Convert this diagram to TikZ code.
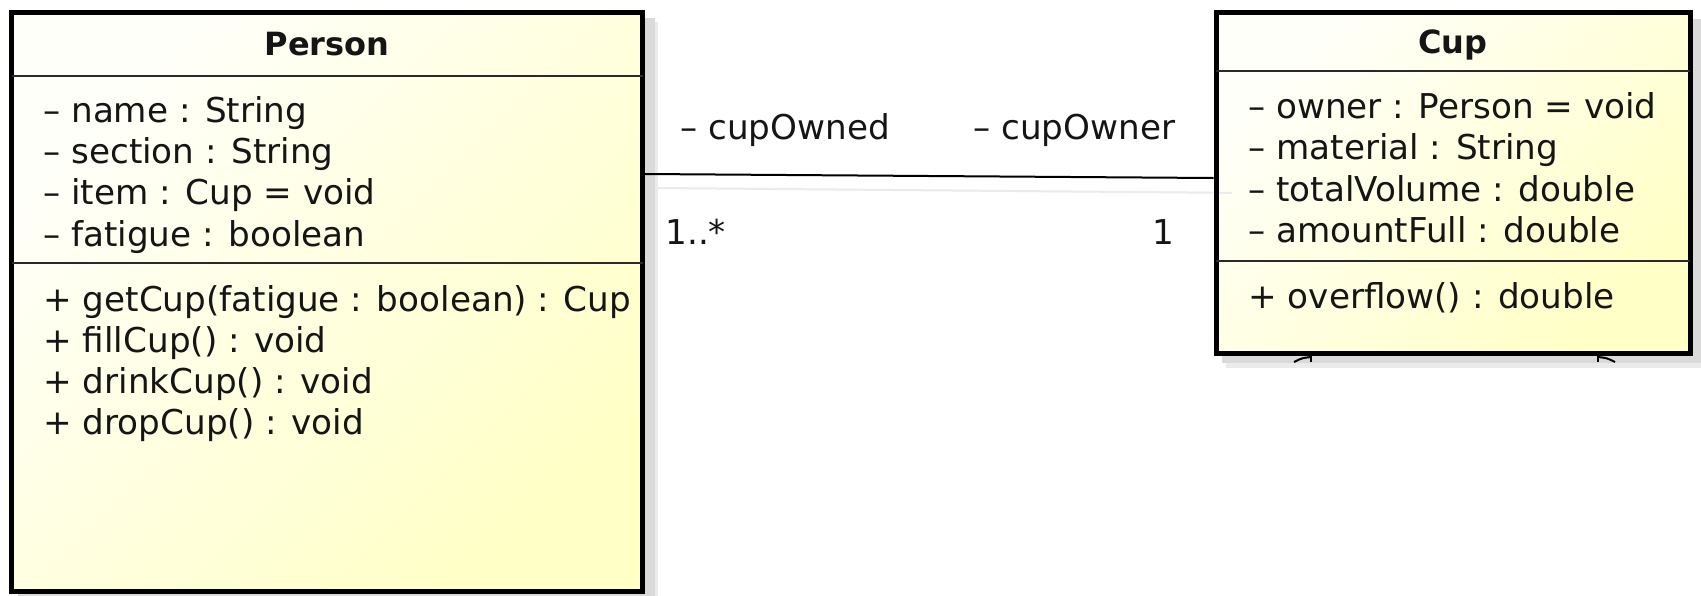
\documentclass[tikz,border=0pt]{standalone}
\usepackage{fontspec}
\setmainfont{DejaVu Sans}
\definecolor{boxlight}{HTML}{FFFFFA}
\definecolor{boxyellow}{HTML}{FFFFC6}
\definecolor{sepgray}{HTML}{2A2A2A}
\definecolor{shadowdark}{HTML}{DADADA}
\definecolor{shadowlight}{HTML}{EBEBEB}
\definecolor{inktext}{HTML}{151515}
\newcommand{\memberfont}{\fontsize{17.1pt}{20pt}\selectfont}
\newcommand{\classfont}{\fontsize{16pt}{19pt}\selectfont\bfseries}
\tikzset{
  classbox/.style={draw=black, line width=2.5pt, inner sep=0pt,
    top color=boxlight, bottom color=boxyellow, shading angle=45},
  compsep/.style={draw=sepgray, line width=1pt},
  member/.style={anchor=base west, inner sep=0pt, text=inktext, font=\memberfont},
  classname/.style={anchor=base, inner sep=0pt, text=inktext, font=\classfont},
  assoc/.style={draw=black, line width=1pt},
  shadowline/.style={draw=shadowlight, line width=1pt},
  dropshadowlight/.style={fill=shadowlight, draw=none},
  dropshadowdark/.style={fill=shadowdark, draw=none},
}
\begin{document}
\begin{tikzpicture}[x=0.5pt, y=-0.5pt]
  \useasboundingbox (0,0) rectangle (1701,595);
  \fill[white] (0,0) rectangle (1701,595);

  % drop shadows behind the two classes
  \path[dropshadowlight] (22,22) rectangle (658,620);
  \path[dropshadowdark] (18,18) rectangle (655,620);
  \path[dropshadowlight] (1226,23) rectangle (1710,368);
  \path[dropshadowdark] (1222,19) rectangle (1706,363);

  % shadow of the association line
  \draw[shadowline] (657,188) -- (1213,192.7);

  % class Person
  \node[classbox, minimum width=315.5pt, minimum height=289.5pt] (person) at (327,301.5) {};
  \draw[compsep] (11.5,75.5) -- (642.5,75.5);
  \draw[compsep] (11.5,263) -- (642.5,263);
  \node[classname] (ptitle) at (327,55) {Person};
  \node[member] (pa1) at (43,122) {– name : String};
  \node[member] (pa2) at (43,163.3) {– section : String};
  \node[member] (pa3) at (43,204.6) {– item : Cup = void};
  \node[member] (pa4) at (43,246) {– fatigue : boolean};
  \node[member] (pm1) at (43,311) {+ getCup(fatigue : boolean) : Cup};
  \node[member] (pm2) at (43,352.3) {+ fillCup() : void};
  \node[member] (pm3) at (43,393.6) {+ drinkCup() : void};
  \node[member] (pm4) at (43,434.9) {+ dropCup() : void};

  % class Cup
  \node[classbox, minimum width=237pt, minimum height=170.25pt] (cup) at (1453,182.75) {};
  \draw[compsep] (1216,71) -- (1690,71);
  \draw[compsep] (1216,261) -- (1690,261);
  \node[classname] (ctitle) at (1453,53) {Cup};
  \node[member] (ca1) at (1248,118.5) {– owner : Person = void};
  \node[member] (ca2) at (1248,159.8) {– material : String};
  \node[member] (ca3) at (1248,201.1) {– totalVolume : double};
  \node[member] (ca4) at (1248,242.4) {– amountFull : double};
  \node[member] (cm1) at (1248,308.3) {+ overflow() : double};
  \draw[shadowline] (1219,192.8) -- (1232,193);

  % small marks below the Cup class
  \draw[line width=1pt, black] (1311,356) -- (1311,362);
  \draw[line width=1pt, black] (1311,357) .. controls (1302,358) .. (1294,362);
  \draw[line width=1pt, black] (1598,356) -- (1598,362);
  \draw[line width=1pt, black] (1598,357) .. controls (1607,358) .. (1615,362);

  % association Person -- Cup
  \draw[assoc] (person.east |- 0,174) -- (cup.west |- 0,178);
  \node[member] (roleowned) at (680,139) {– cupOwned};
  \node[member] (roleowner) at (973,139) {– cupOwner};
  \node[member] (multmany) at (665,244) {1..*};
  \node[member] (multone) at (1152,244) {1};
\end{tikzpicture}
\end{document}
